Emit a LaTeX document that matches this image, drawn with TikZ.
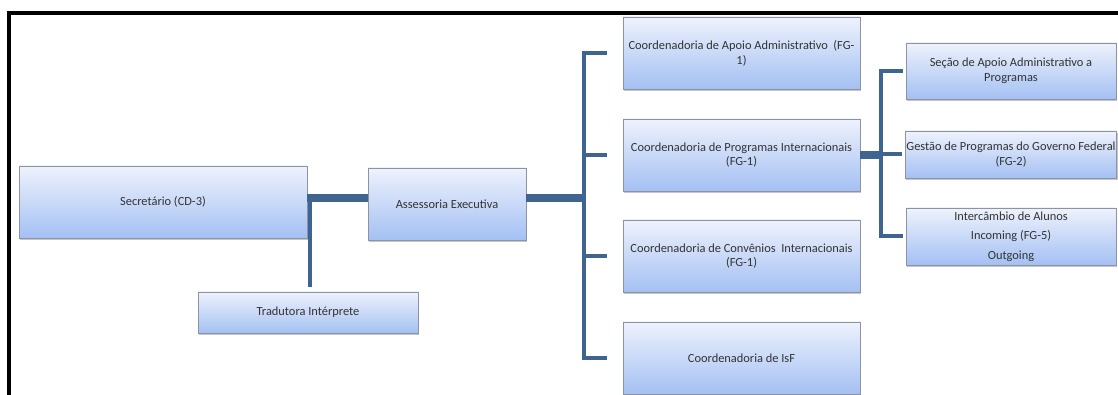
\documentclass[tikz,border=0pt]{standalone}
\usepackage{fontspec}
\setmainfont{Carlito}
\usetikzlibrary{shadows}
\definecolor{boxtop}{HTML}{EEF2FC}
\definecolor{boxbot}{HTML}{A4C0F3}
\definecolor{boxline}{HTML}{8D93A3}
\definecolor{linkblue}{HTML}{3F6490}
\definecolor{ink}{HTML}{333333}

\begin{document}
\begin{tikzpicture}[x=0.75pt,y=-0.75pt,
		unit/.style={draw=boxline,line width=0.6pt,top color=boxtop,bottom color=boxbot,
			drop shadow={shadow xshift=0.6pt,shadow yshift=-1.3pt,opacity=0.45},
			align=center,font=\fontsize{9.3}{11}\selectfont,text=ink,inner sep=1pt},
		wide/.style={draw=linkblue,line width=6.5pt},
		slim/.style={draw=linkblue,line width=3pt}]
			\useasboundingbox (0,0) rectangle (1118,395);
			\clip (0,0) rectangle (1118,395);
			\draw[line width=2.4pt] (9,13) rectangle (1140,420);
			\node[unit,minimum width=216pt,minimum height=54pt] (sec) at (163,202) {Secretário (CD-3)};
			\node[unit,minimum width=118.5pt,minimum height=54pt] (assess) at (447,204) {Assessoria Executiva};
			\node[unit,minimum width=165pt,minimum height=30.75pt] (trad) at (308,312.5) {Tradutora Intérprete};
			\foreach \n/\y/\t in {apoio/53/{Coordenadoria de Apoio Administrativo~~(FG-\\1)},
				progr/155/{Coordenadoria de Programas Internacionais\\(FG-1)},
				conv/256/{Coordenadoria de Convênios~~Internacionais\\(FG-1)},
				isf/358/{Coordenadoria de IsF}}{
				\node[unit,minimum width=177.75pt,minimum height=54pt] (\n) at (741.5,\y) {\t};
			}
			\node[unit,minimum width=157.5pt,minimum height=42pt] (seca) at (1011,71) {Seção de Apoio Administrativo a\\Programas};
			\node[unit,minimum width=157.5pt,minimum height=35.25pt] (gest) at (1011,154.5) {Gestão de Programas do Governo Federal\\(FG-2)};
			\node[unit,minimum width=157.5pt,minimum height=42.75pt] (inter) at (1011,236.5) {Intercâmbio de Alunos\\[3.5pt]Incoming (FG-5)\\[3.5pt]Outgoing};
			\coordinate (j0) at (310,198);
			\coordinate (j1) at (584,198);
			\coordinate (j2) at (881,155);
			\draw[wide] (sec.east |- j0) -- (assess.west |- j0);
			\draw[slim] (j0) -- ([yshift=3.75pt]trad.north -| j0);
			\draw[wide] (assess.east |- j1) -- (j1);
			\draw[slim] ([xshift=-12pt]apoio.west) -| (j1) |- ([xshift=-12pt]isf.west);
			\foreach \n in {progr,conv}{
				\draw[slim] (j1 |- \n.west) -- ([xshift=-12pt]\n.west);
			}
			\draw[wide,line width=5.5pt] (progr.east) -- (j2);
			\draw[slim] ([xshift=-2pt]seca.west) -| (j2) |- ([xshift=-2pt]inter.west);
			\draw[slim] (j2 |- gest.west) -- ([xshift=-2pt]gest.west);
		\end{tikzpicture}
\end{document}
